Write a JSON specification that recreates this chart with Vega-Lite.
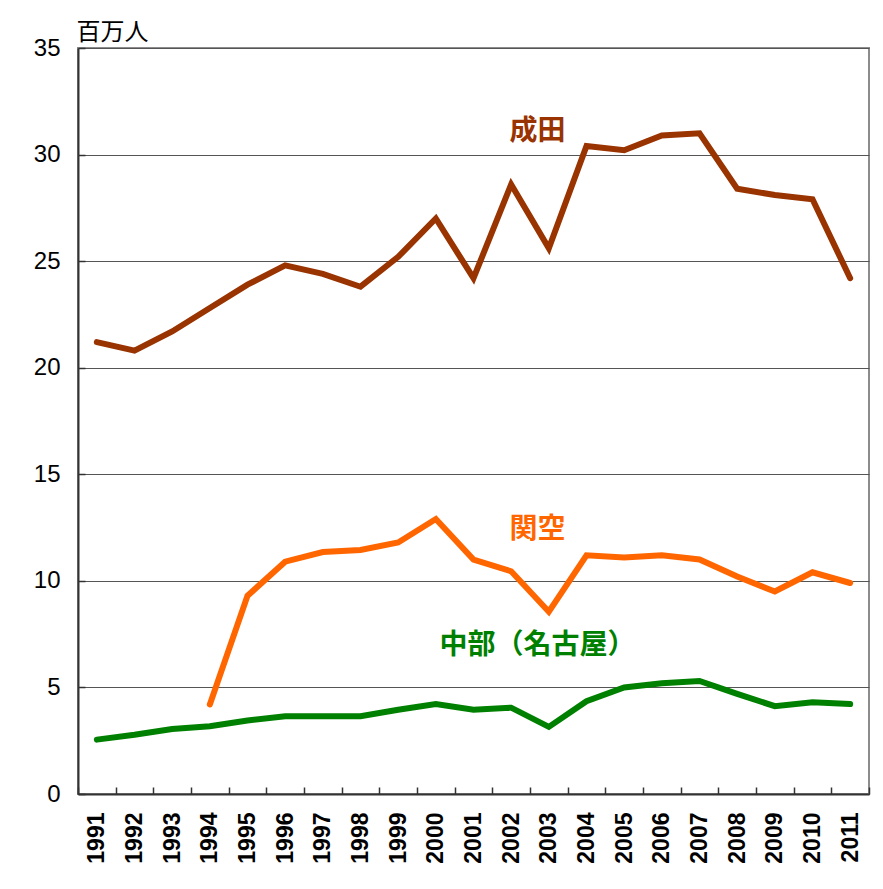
{
  "$schema": "https://vega.github.io/schema/vega-lite/v6.json",
  "width": 791,
  "height": 746,
  "autosize": {"type": "none"},
  "padding": {"left": 78, "top": 48, "right": 14, "bottom": 95},
  "background": "white",
  "config": {
    "view": {"stroke": "#8c8c8c", "strokeWidth": 2},
    "font": "Liberation Sans"
  },
  "datasets": {
    "series": [
      {"year": "1991", "airport": "成田", "value": 21.2},
      {"year": "1992", "airport": "成田", "value": 20.8},
      {"year": "1993", "airport": "成田", "value": 21.7},
      {"year": "1994", "airport": "成田", "value": 22.8},
      {"year": "1995", "airport": "成田", "value": 23.9},
      {"year": "1996", "airport": "成田", "value": 24.8},
      {"year": "1997", "airport": "成田", "value": 24.4},
      {"year": "1998", "airport": "成田", "value": 23.8},
      {"year": "1999", "airport": "成田", "value": 25.2},
      {"year": "2000", "airport": "成田", "value": 27.0},
      {"year": "2001", "airport": "成田", "value": 24.2},
      {"year": "2002", "airport": "成田", "value": 28.6},
      {"year": "2003", "airport": "成田", "value": 25.6},
      {"year": "2004", "airport": "成田", "value": 30.4},
      {"year": "2005", "airport": "成田", "value": 30.2},
      {"year": "2006", "airport": "成田", "value": 30.9},
      {"year": "2007", "airport": "成田", "value": 31.0},
      {"year": "2008", "airport": "成田", "value": 28.4},
      {"year": "2009", "airport": "成田", "value": 28.1},
      {"year": "2010", "airport": "成田", "value": 27.9},
      {"year": "2011", "airport": "成田", "value": 24.2},
      {"year": "1994", "airport": "関空", "value": 4.2},
      {"year": "1995", "airport": "関空", "value": 9.3},
      {"year": "1996", "airport": "関空", "value": 10.9},
      {"year": "1997", "airport": "関空", "value": 11.35},
      {"year": "1998", "airport": "関空", "value": 11.45},
      {"year": "1999", "airport": "関空", "value": 11.8},
      {"year": "2000", "airport": "関空", "value": 12.9},
      {"year": "2001", "airport": "関空", "value": 11.0},
      {"year": "2002", "airport": "関空", "value": 10.45},
      {"year": "2003", "airport": "関空", "value": 8.55},
      {"year": "2004", "airport": "関空", "value": 11.2},
      {"year": "2005", "airport": "関空", "value": 11.1},
      {"year": "2006", "airport": "関空", "value": 11.2},
      {"year": "2007", "airport": "関空", "value": 11.0},
      {"year": "2008", "airport": "関空", "value": 10.2},
      {"year": "2009", "airport": "関空", "value": 9.5},
      {"year": "2010", "airport": "関空", "value": 10.4},
      {"year": "2011", "airport": "関空", "value": 9.9},
      {"year": "1991", "airport": "中部", "value": 2.55},
      {"year": "1992", "airport": "中部", "value": 2.78},
      {"year": "1993", "airport": "中部", "value": 3.05},
      {"year": "1994", "airport": "中部", "value": 3.18},
      {"year": "1995", "airport": "中部", "value": 3.45},
      {"year": "1996", "airport": "中部", "value": 3.65},
      {"year": "1997", "airport": "中部", "value": 3.65},
      {"year": "1998", "airport": "中部", "value": 3.65},
      {"year": "1999", "airport": "中部", "value": 3.95},
      {"year": "2000", "airport": "中部", "value": 4.22},
      {"year": "2001", "airport": "中部", "value": 3.95},
      {"year": "2002", "airport": "中部", "value": 4.05},
      {"year": "2003", "airport": "中部", "value": 3.15},
      {"year": "2004", "airport": "中部", "value": 4.35},
      {"year": "2005", "airport": "中部", "value": 5.0},
      {"year": "2006", "airport": "中部", "value": 5.2},
      {"year": "2007", "airport": "中部", "value": 5.3},
      {"year": "2008", "airport": "中部", "value": 4.7},
      {"year": "2009", "airport": "中部", "value": 4.12},
      {"year": "2010", "airport": "中部", "value": 4.3},
      {"year": "2011", "airport": "中部", "value": 4.22}
    ],
    "labels": [
      {"year": "2003", "airport": "成田", "text": "成田", "value": 31.05},
      {"year": "2003", "airport": "関空", "text": "関空", "value": 12.4},
      {"year": "2003", "airport": "中部", "text": "中部（名古屋）", "value": 6.95}
    ]
  },
  "layer": [
    {
      "data": {"name": "series"},
      "mark": {"type": "line", "strokeWidth": 6, "strokeCap": "round", "strokeJoin": "miter"},
      "encoding": {
        "x": {
          "field": "year", "type": "ordinal",
          "scale": {"type": "band", "paddingInner": 0, "paddingOuter": 0},
          "axis": {
            "title": null,
            "tickBand": "extent",
            "tickSize": -7,
            "tickColor": "#333333",
            "tickWidth": 1.5,
            "domainColor": "#333333",
            "domainWidth": 2,
            "labelAngle": -90,
            "labelPadding": 25,
            "labelFontSize": 23,
            "labelFontWeight": "bold",
            "labelColor": "#000000",
            "labelFont": "Liberation Sans"
          }
        },
        "y": {
          "field": "value", "type": "quantitative",
          "scale": {"domain": [0, 35], "nice": false},
          "axis": {
            "values": [0, 5, 10, 15, 20, 25, 30, 35],
            "title": "百万人",
            "titleAngle": 0,
            "titleX": 34,
            "titleY": -16,
            "titleAlign": "center",
            "titleBaseline": "middle",
            "titleFont": "Noto Sans CJK JP",
            "titleFontSize": 24,
            "titleFontWeight": "normal",
            "titleColor": "#000000",
            "grid": true,
            "gridColor": "#555555",
            "gridWidth": 1.2,
            "tickSize": -7,
            "tickColor": "#333333",
            "tickWidth": 1.5,
            "domainColor": "#333333",
            "domainWidth": 2,
            "labelPadding": 25,
            "labelFontSize": 24,
            "labelColor": "#000000",
            "labelFont": "Liberation Sans"
          }
        },
        "color": {
          "field": "airport", "type": "nominal",
          "scale": {"domain": ["成田", "関空", "中部"], "range": ["#993300", "#ff6600", "#008000"]},
          "legend": null
        },
        "detail": {"field": "airport"}
      }
    },
    {
      "data": {"name": "labels"},
      "mark": {"type": "text", "font": "Noto Sans CJK JP", "fontWeight": "bold", "fontSize": 28, "align": "center", "baseline": "middle"},
      "encoding": {
        "x": {"field": "year", "type": "ordinal", "bandPosition": 0.2},
        "y": {"field": "value", "type": "quantitative"},
        "text": {"field": "text"},
        "color": {"field": "airport", "type": "nominal"}
      }
    }
  ]
}
